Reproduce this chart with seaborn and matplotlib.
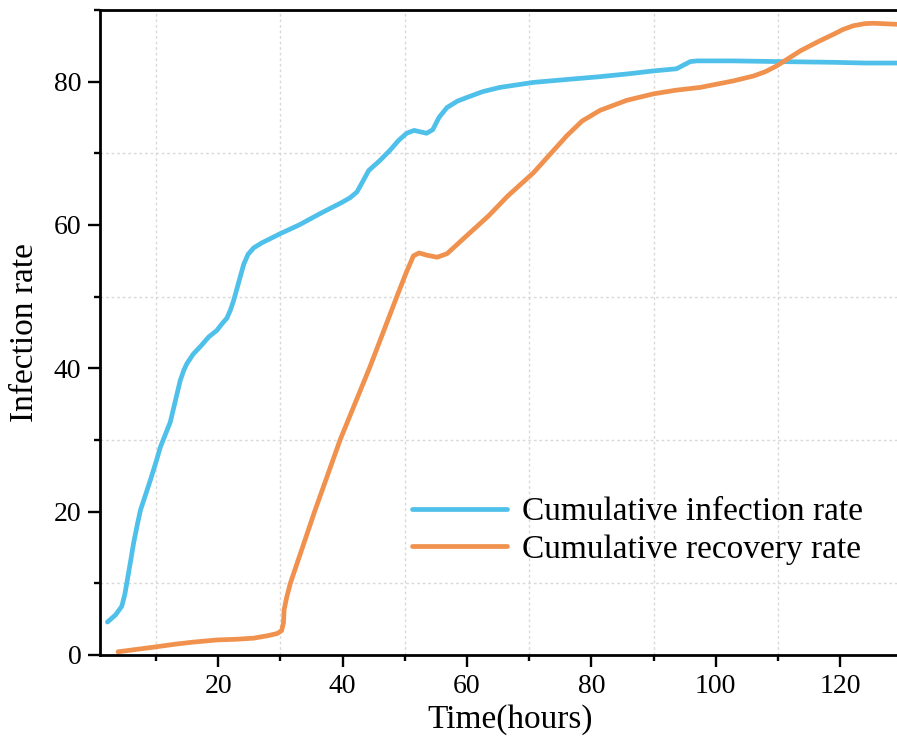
import matplotlib
matplotlib.use("Agg")
import matplotlib.pyplot as plt
from matplotlib.ticker import MultipleLocator
import pandas as pd
import seaborn as sns

# Cumulative infection rate over time
infection_hours = [2.2, 3.5, 4.5, 5.0, 5.4, 5.9, 6.4, 7.0, 7.5, 9.1, 10.1, 10.7, 12.3,
                   13.4, 13.9, 14.5, 15.0, 16.0, 17.1, 18.5, 19.8, 20.6, 21.4, 22.0,
                   22.5, 23.3, 24.1, 24.8, 25.7, 27.0, 30.0, 33.0, 36.4, 40.0, 41.2,
                   42.3, 43.2, 44.2, 46.0, 47.6, 49.0, 50.3, 51.5, 52.5, 53.5, 54.5,
                   55.5, 56.8, 58.5, 60.0, 62.5, 65.3, 70.7, 76.0, 81.4, 86.0, 90.0,
                   93.7, 94.8, 95.9, 97.0, 102.8, 110.4, 118.9, 124.0, 132.0]
infection_rate = [4.6, 5.6, 6.8, 8.5, 10.5, 13.0, 15.6, 18.2, 20.2, 24.4, 27.2, 29.0, 32.5,
                  36.5, 38.3, 39.8, 40.7, 42.0, 43.0, 44.4, 45.3, 46.2, 47.0, 48.2,
                  49.5, 52.0, 54.5, 55.9, 56.8, 57.5, 58.8, 60.0, 61.6, 63.2, 63.8,
                  64.6, 66.0, 67.6, 69.0, 70.4, 71.8, 72.8, 73.2, 73.0, 72.8, 73.3,
                  75.0, 76.4, 77.3, 77.8, 78.6, 79.2, 79.9, 80.3, 80.7, 81.1, 81.5,
                  81.8, 82.3, 82.8, 82.9, 82.9, 82.8, 82.7, 82.6, 82.6]

# Cumulative recovery rate over time
recovery_hours = [3.9, 7.0, 10.1, 13.0, 16.0, 19.8, 23.0, 25.7, 28.0, 29.5, 30.2, 30.5,
                  30.6, 31.0, 31.6, 35.5, 39.6, 44.4, 48.9, 50.3, 51.4, 52.3,
                  53.5, 55.2, 56.8, 59.7, 63.5, 66.5, 70.7, 73.5, 76.1, 78.5, 81.4,
                  85.7, 90.0, 93.5, 97.5, 102.8, 106.1, 108.0, 109.8, 113.6, 116.5,
                  118.9, 120.5, 122.1, 124.0, 125.4, 129.2, 132.0]
recovery_rate = [0.45, 0.8, 1.15, 1.5, 1.8, 2.1, 2.2, 2.35, 2.7, 3.0, 3.4, 4.5,
                 6.3, 8.0, 10.0, 20.0, 30.0, 40.2, 50.4, 53.5, 55.7, 56.1,
                 55.8, 55.5, 56.0, 58.3, 61.3, 64.0, 67.3, 70.0, 72.5, 74.5, 76.0,
                 77.4, 78.3, 78.8, 79.2, 80.1, 80.8, 81.4, 82.2, 84.3, 85.6,
                 86.6, 87.3, 87.8, 88.1, 88.15, 88.0, 88.0]

series_names = ["Cumulative infection rate", "Cumulative recovery rate"]
series_colors = ["#4EC0E9", "#F0914E"]

df = pd.concat([
    pd.DataFrame({"hours": infection_hours, "rate": infection_rate, "series": series_names[0]}),
    pd.DataFrame({"hours": recovery_hours, "rate": recovery_rate, "series": series_names[1]}),
], ignore_index=True)

sns.set_style("ticks")
plt.rcParams["font.family"] = ["Liberation Serif", "DejaVu Serif"]
plt.rcParams["text.color"] = "black"
plt.rcParams["axes.labelcolor"] = "black"

fig = plt.figure(figsize=(8.97, 7.52), dpi=100)
ax = fig.add_axes([100 / 897, 97 / 752, 821 / 897, 645 / 752])

sns.lineplot(data=df, x="hours", y="rate", hue="series", hue_order=series_names,
             palette=dict(zip(series_names, series_colors)), linewidth=3.4,
             estimator=None, sort=False, ax=ax, legend=True)

ax.set_xlim(1, 133)
ax.set_ylim(0, 90)
ax.xaxis.set_major_locator(MultipleLocator(20))
ax.xaxis.set_minor_locator(MultipleLocator(10))
ax.yaxis.set_major_locator(MultipleLocator(20))
ax.yaxis.set_minor_locator(MultipleLocator(10))

ax.grid(which="minor", color="#d9d9d9", linestyle=(0, (2, 2)), linewidth=1.0)
ax.grid(which="major", visible=False)
ax.set_axisbelow(True)

for side in ["left", "bottom", "top", "right"]:
    ax.spines[side].set_linewidth(2.0)
    ax.spines[side].set_color("black")

ax.tick_params(which="major", direction="out", length=8.5, width=1.7,
               labelsize=20, pad=5, color="black", labelcolor="black")
ax.tick_params(which="minor", direction="out", length=4, width=1.7, color="black")

ax.set_xlabel("Time(hours)", fontsize=24, labelpad=4)
ax.set_ylabel("Infection rate", fontsize=24, labelpad=10)

handles, labels = ax.get_legend_handles_labels()
ax.legend(handles, labels, frameon=False, loc="upper left",
          bbox_to_anchor=(0.38, 0.245), borderpad=0, borderaxespad=0,
          handlelength=2.85, handletextpad=0.45, labelspacing=0.21, fontsize=24,
          labelcolor="black")

fig.savefig("out.png", dpi=100)
